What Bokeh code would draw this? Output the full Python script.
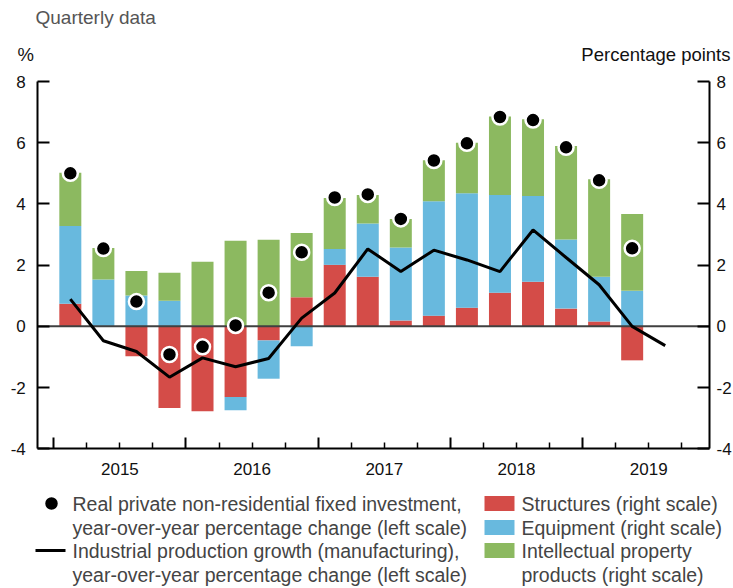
import numpy as np
from bokeh.plotting import figure
from bokeh.models import Range1d, LinearAxis, FixedTicker
from bokeh.core.properties import value
from bokeh.embed import file_html
from bokeh.resources import INLINE

# ---------------- data ----------------
quarters = ["2015Q1", "2015Q2", "2015Q3", "2015Q4",
            "2016Q1", "2016Q2", "2016Q3", "2016Q4",
            "2017Q1", "2017Q2", "2017Q3", "2017Q4",
            "2018Q1", "2018Q2", "2018Q3", "2018Q4",
            "2019Q1", "2019Q2", "2019Q3"]
# contributions, percentage points (right scale)
structures = [0.74, 0.00, -0.98, -2.67, -2.77, -2.31, -0.46, 0.95, 2.01,
              1.62, 0.19, 0.35, 0.61, 1.10, 1.46, 0.58, 0.16, -1.11]
equipment = [2.54, 1.53, 1.01, 0.84, 0.03, -0.43, -1.25, -0.65, 0.52,
             1.74, 2.39, 3.74, 3.74, 3.19, 2.80, 2.26, 1.46, 1.16]
ipp = [1.74, 1.03, 0.80, 0.91, 2.08, 2.80, 2.83, 2.10, 1.66,
       0.93, 0.93, 1.34, 1.65, 2.57, 2.51, 3.05, 3.19, 2.51]
# real private non-residential fixed investment, y/y % (left scale)
investment = [5.00, 2.54, 0.81, -0.92, -0.67, 0.03, 1.10, 2.42, 4.21,
              4.31, 3.51, 5.42, 5.98, 6.84, 6.74, 5.85, 4.77, 2.55]
# industrial production growth (manufacturing), y/y % (left scale)
industrial = [0.89, -0.47, -0.82, -1.66, -1.03, -1.32, -1.05, 0.27, 1.09,
              2.53, 1.79, 2.49, 2.17, 1.79, 3.15, 2.25, 1.36, 0.00, -0.63]
year_labels = ["2015", "2016", "2017", "2018", "2019"]
y_ticks = [-4, -2, 0, 2, 4, 6, 8]
y_tick_labels = ["-4", "-2", "0", "2", "4", "6", "8"]

title_text = "Quarterly data"
left_unit = "%"
right_unit = "Percentage points"
legend_left = ["Real private non-residential fixed investment,",
               "year-over-year percentage change (left scale)",
               "Industrial production growth (manufacturing),",
               "year-over-year percentage change (left scale)"]
legend_right = ["Structures (right scale)",
                "Equipment (right scale)",
                "Intellectual property",
                "products (right scale)"]

# ---------------- styles / layout constants ----------------
RED = "#d44c48"
BLUE = "#68b9de"
GREEN = "#8cb960"
FONT = "Liberation Sans"
W, H = 732, 586
X0, X1 = 2014.879, 2019.96      # plotted time span
Y0, Y1 = -4, 8                  # value span (both scales)
PX_L, PX_R = 37.3, 709.0        # canvas x of chart left / right edge
PY_T, PY_B = 81.0, 448.3        # canvas y of Y1 / Y0

sx = (X1 - X0) / (PX_R - PX_L)
sy = (Y1 - Y0) / (PY_B - PY_T)
x_range = Range1d(X0 - PX_L * sx, X1 + (W - PX_R) * sx)
y_range = Range1d(Y0 - (H - PY_B) * sy, Y1 + PY_T * sy)


def qpos(q):
    return int(q[:4]) + (int(q[5]) - 0.5) / 4.0


x_all = np.array([qpos(q) for q in quarters])
n_bars = len(structures)
x_bar = x_all[:n_bars]

p = figure(width=W, height=H, x_range=x_range, y_range=y_range,
           min_border=0, x_axis_location=None, y_axis_location=None,
           toolbar_location=None, output_backend="svg")
p.outline_line_color = None
p.grid.visible = False
p.extra_x_ranges = {"px": Range1d(0, W)}
p.extra_y_ranges = {"px": Range1d(H, 0)}

# stacked bars with separate positive / negative stacking
pos_base = np.zeros(n_bars)
neg_base = np.zeros(n_bars)
for vals, col in [(structures, RED), (equipment, BLUE), (ipp, GREEN)]:
    v = np.array(vals, dtype=float)
    bottom = np.where(v >= 0, pos_base, neg_base + v)
    top = np.where(v >= 0, pos_base + v, neg_base)
    pos_base = np.where(v >= 0, pos_base + v, pos_base)
    neg_base = np.where(v < 0, neg_base + v, neg_base)
    p.vbar(x=x_bar, width=0.1664, bottom=bottom, top=top,
           fill_color=col, line_color=None)

p.segment(x0=[X0], x1=[X1], y0=[0], y1=[0], line_color="#404040", line_width=2)
p.line(x_all, industrial, line_color="black", line_width=3)
p.scatter(x_bar, investment, size=15, fill_color="black",
          line_color="white", line_width=2.5)


# ---------------- axes ----------------
def yaxis(loc, standoff):
    return LinearAxis(ticker=FixedTicker(ticks=y_ticks), fixed_location=loc,
                      bounds=(Y0, Y1),
                      major_label_overrides=dict(zip(y_ticks, y_tick_labels)),
                      major_tick_in=12, major_tick_out=0,
                      minor_tick_line_color=None,
                      axis_line_width=2, major_tick_line_width=2,
                      axis_line_color="black", major_tick_line_color="black",
                      major_label_standoff=standoff,
                      major_label_text_font=FONT,
                      major_label_text_font_size="17px",
                      major_label_text_color="#111111")


p.add_layout(yaxis(X0, 12), "left")
p.add_layout(yaxis(X1, 7), "right")

year_starts = [int(y) for y in year_labels]
quarter_ticks = [y + q / 4.0 for y in year_starts for q in (1, 2, 3)]
xt = LinearAxis(ticker=FixedTicker(ticks=year_starts, minor_ticks=quarter_ticks),
                fixed_location=Y0, bounds=(X0, X1),
                major_tick_in=11, major_tick_out=0,
                minor_tick_in=6, minor_tick_out=0,
                axis_line_width=2, major_tick_line_width=2,
                minor_tick_line_width=1.5,
                axis_line_color="black", major_tick_line_color="black",
                minor_tick_line_color="black",
                major_label_text_font_size="1px",
                major_label_text_alpha=0, major_label_standoff=0)
p.add_layout(xt, "below")

mid_ticks = [y + 0.5 for y in year_starts]
xl = LinearAxis(ticker=FixedTicker(ticks=mid_ticks), fixed_location=Y0,
                major_label_overrides=dict(zip(mid_ticks, year_labels)),
                axis_line_color=None, major_tick_line_color=None,
                minor_tick_line_color=None, major_label_standoff=8,
                major_label_text_font=FONT, major_label_text_font_size="17px",
                major_label_text_color="#111111")
p.add_layout(xl, "below")

# ---------------- header texts (canvas pixel coordinates) ----------------
px = dict(x_range_name="px", y_range_name="px")
p.text(x=[35], y=[17], text=[title_text], text_font=value(FONT),
       text_font_size="19px", text_color="#555555", text_baseline="middle", **px)
p.text(x=[17], y=[54], text=[left_unit], text_font=value(FONT),
       text_font_size="18.5px", text_color="#111111", text_baseline="middle", **px)
p.text(x=[730], y=[54], text=[right_unit], text_font=value(FONT),
       text_font_size="18.5px", text_color="#111111", text_baseline="middle",
       text_align="right", **px)

# ---------------- legend (canvas pixel coordinates) ----------------
rows = [503, 527, 550, 574]
p.scatter(x=[51], y=[rows[0]], size=15, fill_color="black",
          line_color="white", line_width=2.5, **px)
p.line(x=[35, 65], y=[rows[2], rows[2]], line_color="black", line_width=3, **px)
p.text(x=[72] * 4, y=rows, text=legend_left, text_font=value(FONT),
       text_font_size="19.5px", text_color="#444444", text_baseline="middle", **px)
p.rect(x=[499] * 3, y=rows[:3], width=30, height=15,
       fill_color=[RED, BLUE, GREEN], line_color=None, **px)
p.text(x=[521] * 4, y=rows, text=legend_right, text_font=value(FONT),
       text_font_size="19.5px", text_color="#444444", text_baseline="middle", **px)

open("out.html", "w").write(file_html(p, INLINE))
